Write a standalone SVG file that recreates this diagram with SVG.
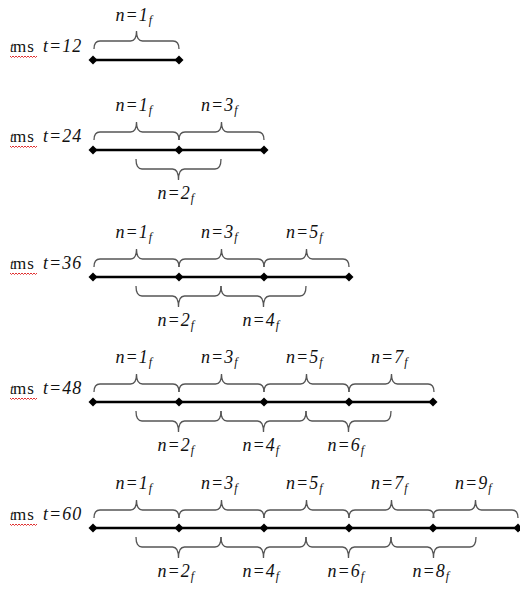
<svg xmlns="http://www.w3.org/2000/svg" width="520" height="590" viewBox="0 0 520 590">
<style>
.ln{stroke:#000;stroke-width:2.5;fill:none}
.br{stroke:#555;stroke-width:1.3;fill:none}
text{font-family:'Liberation Serif','Times New Roman',Times,'DejaVu Serif',serif;fill:#111}
.lb{font-style:italic;font-size:18px;letter-spacing:1px}
.sb{font-size:12px;letter-spacing:0}
.ms{font-size:17px;letter-spacing:1px}
.tt{font-style:italic;font-size:14px}
.wv{stroke:#e03030;stroke-width:1;fill:none}
</style>
<defs>
<path id="dm" d="M0,-4.5 L4.5,0 L0,4.5 L-4.5,0Z" fill="#000"/>
<path id="ub" class="br" d="M0,-10 Q0,-18 6,-18 H36.5 Q42.5,-18 42.5,-28 Q42.5,-18 48.5,-18 H79 Q85,-18 85,-10"/>
<path id="lbr" class="br" d="M0,9 Q0,19 6,19 H36.5 Q42.5,19 42.5,30 Q42.5,19 48.5,19 H79 Q85,19 85,9"/>
<path id="wv" class="wv" d="M0,0 l1.5,1.5 l1.5,-1.5 l1.5,1.5 l1.5,-1.5 l1.5,1.5 l1.5,-1.5 l1.5,1.5 l1.5,-1.5 l1.5,1.5 l1.5,-1.5 l1.5,1.5 l1.5,-1.5 l1.5,1.5 l1.5,-1.5 l1.5,1.5 l1.5,-1.5 l1.5,1.5 l1.5,-1.5"/>
</defs>

<g id="row12">
<text class="tt" x="10" y="52">t</text><text class="ms" x="13" y="52">ms</text><use href="#wv" x="10" y="56"/>
<text class="lb" x="43" y="52">t=12</text>
<g class="connectors">
<line class="ln" x1="93" y1="60" x2="179" y2="60"/>
<use href="#ub" x="94" y="59"/>
</g>
<use href="#dm" x="93" y="60"/><use href="#dm" x="179" y="60"/>
<text class="lb" x="115.5" y="21">n=1<tspan class="sb" dy="3">f</tspan></text>
</g>

<g id="row24">
<text class="tt" x="10" y="142">t</text><text class="ms" x="13" y="142">ms</text><use href="#wv" x="10" y="146"/>
<text class="lb" x="43" y="142">t=24</text>
<g class="connectors">
<line class="ln" x1="93" y1="150" x2="264" y2="150"/>
<use href="#ub" x="94" y="150"/><use href="#ub" x="179" y="150"/>
<use href="#lbr" x="136" y="150"/>
</g>
<use href="#dm" x="93" y="150"/><use href="#dm" x="179" y="150"/><use href="#dm" x="264" y="150"/>
<text class="lb" x="115.5" y="111">n=1<tspan class="sb" dy="3">f</tspan></text>
<text class="lb" x="201" y="111">n=3<tspan class="sb" dy="3">f</tspan></text>
<text class="lb" x="157.5" y="199">n=2<tspan class="sb" dy="3">f</tspan></text>
</g>

<g id="row36">
<text class="tt" x="10" y="269">t</text><text class="ms" x="13" y="269">ms</text><use href="#wv" x="10" y="273"/>
<text class="lb" x="43" y="269">t=36</text>
<g class="connectors">
<line class="ln" x1="93" y1="277" x2="349" y2="277"/>
<use href="#ub" x="94" y="277"/><use href="#ub" x="179" y="277"/><use href="#ub" x="264" y="277"/>
<use href="#lbr" x="136" y="277"/><use href="#lbr" x="221" y="277"/>
</g>
<use href="#dm" x="93" y="277"/><use href="#dm" x="179" y="277"/><use href="#dm" x="264" y="277"/><use href="#dm" x="349" y="277"/>
<text class="lb" x="115.5" y="238">n=1<tspan class="sb" dy="3">f</tspan></text>
<text class="lb" x="201" y="238">n=3<tspan class="sb" dy="3">f</tspan></text>
<text class="lb" x="286" y="238">n=5<tspan class="sb" dy="3">f</tspan></text>
<text class="lb" x="157.5" y="326">n=2<tspan class="sb" dy="3">f</tspan></text>
<text class="lb" x="242.5" y="326">n=4<tspan class="sb" dy="3">f</tspan></text>
</g>

<g id="row48">
<text class="tt" x="10" y="394">t</text><text class="ms" x="13" y="394">ms</text><use href="#wv" x="10" y="398"/>
<text class="lb" x="43" y="394">t=48</text>
<g class="connectors">
<line class="ln" x1="93" y1="402" x2="433" y2="402"/>
<use href="#ub" x="94" y="402"/><use href="#ub" x="179" y="402"/><use href="#ub" x="264" y="402"/><use href="#ub" x="349" y="402"/>
<use href="#lbr" x="136" y="402"/><use href="#lbr" x="221" y="402"/><use href="#lbr" x="306" y="402"/>
</g>
<use href="#dm" x="93" y="402"/><use href="#dm" x="179" y="402"/><use href="#dm" x="264" y="402"/><use href="#dm" x="349" y="402"/><use href="#dm" x="433" y="402"/>
<text class="lb" x="115.5" y="363">n=1<tspan class="sb" dy="3">f</tspan></text>
<text class="lb" x="201" y="363">n=3<tspan class="sb" dy="3">f</tspan></text>
<text class="lb" x="286" y="363">n=5<tspan class="sb" dy="3">f</tspan></text>
<text class="lb" x="371" y="363">n=7<tspan class="sb" dy="3">f</tspan></text>
<text class="lb" x="157.5" y="451">n=2<tspan class="sb" dy="3">f</tspan></text>
<text class="lb" x="242.5" y="451">n=4<tspan class="sb" dy="3">f</tspan></text>
<text class="lb" x="327.5" y="451">n=6<tspan class="sb" dy="3">f</tspan></text>
</g>

<g id="row60">
<text class="tt" x="10" y="520">t</text><text class="ms" x="13" y="520">ms</text><use href="#wv" x="10" y="524"/>
<text class="lb" x="43" y="520">t=60</text>
<g class="connectors">
<line class="ln" x1="93" y1="528" x2="518" y2="528"/>
<use href="#ub" x="94" y="528"/><use href="#ub" x="179" y="528"/><use href="#ub" x="264" y="528"/><use href="#ub" x="349" y="528"/><use href="#ub" x="433" y="528"/>
<use href="#lbr" x="136" y="528"/><use href="#lbr" x="221" y="528"/><use href="#lbr" x="306" y="528"/><use href="#lbr" x="391" y="528"/>
</g>
<use href="#dm" x="93" y="528"/><use href="#dm" x="179" y="528"/><use href="#dm" x="264" y="528"/><use href="#dm" x="349" y="528"/><use href="#dm" x="433" y="528"/><use href="#dm" x="518" y="528"/>
<text class="lb" x="115.5" y="489">n=1<tspan class="sb" dy="3">f</tspan></text>
<text class="lb" x="201" y="489">n=3<tspan class="sb" dy="3">f</tspan></text>
<text class="lb" x="286" y="489">n=5<tspan class="sb" dy="3">f</tspan></text>
<text class="lb" x="371" y="489">n=7<tspan class="sb" dy="3">f</tspan></text>
<text class="lb" x="455" y="489">n=9<tspan class="sb" dy="3">f</tspan></text>
<text class="lb" x="157.5" y="577">n=2<tspan class="sb" dy="3">f</tspan></text>
<text class="lb" x="242.5" y="577">n=4<tspan class="sb" dy="3">f</tspan></text>
<text class="lb" x="327.5" y="577">n=6<tspan class="sb" dy="3">f</tspan></text>
<text class="lb" x="412.5" y="577">n=8<tspan class="sb" dy="3">f</tspan></text>
</g>
</svg>
